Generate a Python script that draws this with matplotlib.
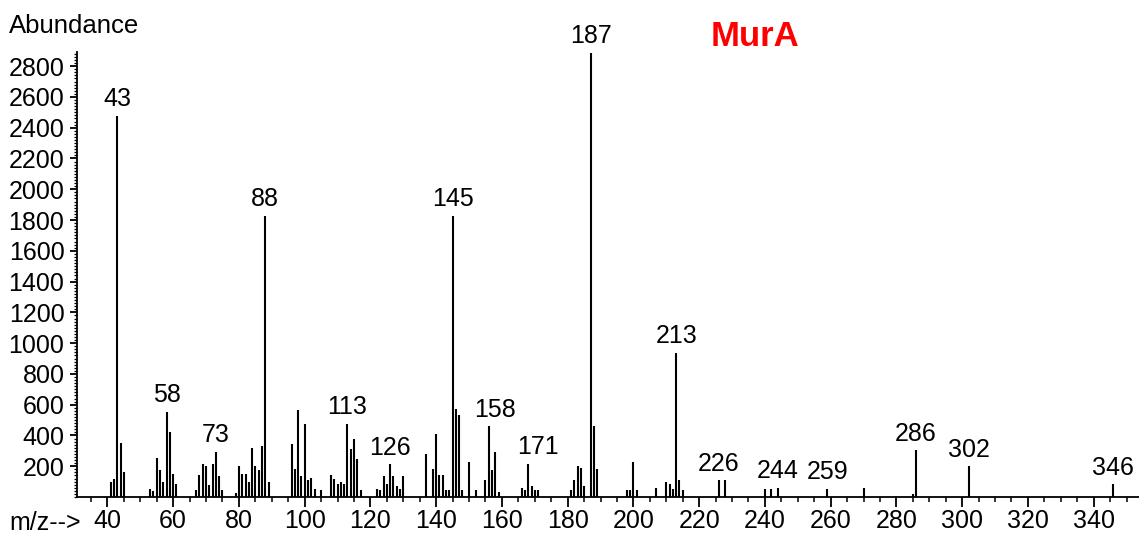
import matplotlib
matplotlib.use('Agg')
import matplotlib.pyplot as plt
import numpy as np
from matplotlib.ticker import MultipleLocator

# ---- data ----
mz = [41, 42, 43, 44, 45,
      53, 54, 55, 56, 57, 58, 59, 60, 61,
      67, 68, 69, 70, 71, 72, 73, 74, 75,
      79, 80, 81, 82, 83, 84, 85, 86, 87, 88, 89,
      96, 97, 98, 99, 100, 101, 102, 103, 105,
      108, 109, 110, 111, 112, 113, 114, 115, 116, 117,
      122, 123, 124, 125, 126, 127, 128, 129, 130,
      137, 139, 140, 141, 142, 143, 144, 145, 146, 147, 148, 150, 152,
      155, 156, 157, 158, 159,
      166, 167, 168, 169, 170, 171,
      181, 182, 183, 184, 185, 187, 188, 189,
      198, 199, 200, 201, 207, 210, 211, 212, 213, 214, 215,
      226, 228, 240, 242, 244, 259, 270, 285, 286, 302, 346]
abundance = [97, 119, 2476, 353, 162,
             54, 39, 253, 178, 97, 552, 422, 147, 82,
             48, 145, 216, 200, 76, 212, 292, 134, 43,
             26, 200, 147, 147, 97, 318, 200, 178, 331, 1825, 97,
             342, 184, 563, 134, 476, 113, 123, 54, 43,
             145, 119, 82, 97, 82, 476, 314, 379, 249, 48,
             54, 43, 134, 87, 212, 134, 69, 54, 134,
             277, 184, 407, 145, 145, 43, 43, 1825, 574, 531, 43, 228, 48,
             108, 459, 173, 292, 32,
             61, 48, 214, 69, 48, 48,
             43, 113, 200, 190, 69, 2885, 459, 184,
             43, 43, 228, 43, 61, 97, 82, 54, 935, 108, 43,
             108, 108, 54, 54, 58, 54, 61, 22, 303, 199, 82]
labeled_mz = [43, 58, 73, 88, 113, 126, 145, 158, 171, 187, 213,
              226, 244, 259, 286, 302, 346]
x_ticks = list(range(40, 341, 20))
y_ticks = list(range(200, 2801, 200))
title = "MurA"
y_title = "Abundance"
x_title = "m/z-->"

# ---- figure ----
plt.rcParams['font.family'] = ['Liberation Sans', 'DejaVu Sans']
W, H = 1139, 537
fig = plt.figure(figsize=(W / 100, H / 100), dpi=100)
ax = fig.add_axes([77 / W, 1 - 497 / H, 1 - 77 / W, (497 - 52) / H])

ax.vlines(mz, 0, abundance, color='black', linewidth=1.5)
ax.set_xlim(30.74, 353.8)
ax.set_ylim(0, 2892)

mz_arr = np.array(mz)
ab_arr = np.array(abundance)
for m in labeled_mz:
    local = ab_arr[np.abs(mz_arr - m) <= 3].max()
    ax.annotate(str(m), xy=(m, local), xytext=(0, 7), textcoords='offset points',
                ha='center', va='baseline', fontsize=18)

for s in ['top', 'right']:
    ax.spines[s].set_visible(False)
for s in ['left', 'bottom']:
    ax.spines[s].set_linewidth(1.3)

ax.set_xticks(x_ticks)
ax.set_yticks(y_ticks)
ax.xaxis.set_minor_locator(MultipleLocator(5))
ax.yaxis.set_minor_locator(MultipleLocator(20))
ax.tick_params(axis='x', which='major', length=7, width=1.3, labelsize=18, pad=2)
ax.tick_params(axis='x', which='minor', length=3.5, width=1.1)
ax.tick_params(axis='y', which='major', length=5, width=1.3, labelsize=18, pad=4)
ax.tick_params(axis='y', which='minor', length=2.5, width=0.9)

fig.text(755 / W, 1 - 37 / H, title, color='#ff0000', fontweight='bold',
         fontsize=25, ha='center', va='center')
fig.text(9 / W, 1 - 26 / H, y_title, fontsize=18.5, ha='left', va='center')
fig.text(9 / W, 1 - 523 / H, x_title, fontsize=18, ha='left', va='center')

fig.savefig('out.png', dpi=100)
